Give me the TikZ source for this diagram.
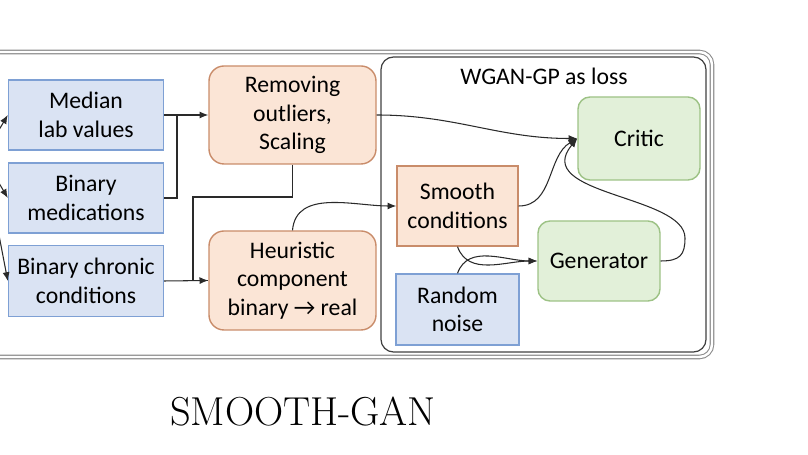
\documentclass[tikz,border=0pt]{standalone}
\usepackage{fontspec}
\newfontfamily\calfont{Carlito}
\usetikzlibrary{arrows.meta}
\definecolor{bluefill}{HTML}{DAE3F3}
\definecolor{blueline}{HTML}{7EA0D4}
\definecolor{orangefill}{HTML}{FBE5D6}
\definecolor{orangeline}{HTML}{C98C6A}
\definecolor{greenfill}{HTML}{E2F0D9}
\definecolor{greenline}{HTML}{9DC285}
\definecolor{arrowgray}{HTML}{2A2A2A}
\begin{document}
\begin{tikzpicture}[scale=1,
	box/.style={line width=0.8pt, align=center, inner sep=0pt, font=\calfont\fontsize{13.5}{16.2}\selectfont},
	bluebox/.style={box, draw=blueline, fill=bluefill},
	orangebox/.style={box, draw=orangeline, fill=orangefill},
	greenbox/.style={box, draw=greenline, fill=greenfill, rounded corners=0.24cm},
	flow/.style={draw=arrowgray, line width=0.6pt},
	tip/.style={-{Latex[length=5pt,width=4pt]}},
	]
	\useasboundingbox (0,0) rectangle (16.16,9.1);

	% frames
	\draw[draw=black!45, double=white, double distance=1.4pt, line width=0.6pt, rounded corners=0.25cm] (-0.3,1.96) rectangle (14.24,8.06);
	\draw[draw=black!75, line width=0.7pt, rounded corners=0.25cm] (7.62,2.06) rectangle (14.12,7.96);
	\node (wgan) at (10.88,7.58) [font=\calfont\fontsize{13.5}{16.2}\selectfont] {WGAN-GP as loss};

	% inputs
	\node (med) at (1.72,6.80) [bluebox, minimum width=3.1cm, minimum height=1.4cm] {Median\\lab values};
	\node (bmed) at (1.72,5.14) [bluebox, minimum width=3.1cm, minimum height=1.4cm] {Binary\\medications};
	\node (chron) at (1.72,3.48) [bluebox, minimum width=3.1cm, minimum height=1.42cm] {Binary chronic\\conditions};

	% preprocessing
	\node (remove) at (5.85,6.80) [orangebox, rounded corners=0.3cm, minimum width=3.34cm, minimum height=1.96cm] {Removing\\outliers,\\Scaling};
	\node (heur) at (5.85,3.49) [orangebox, rounded corners=0.3cm, minimum width=3.34cm, minimum height=1.98cm] {Heuristic\\component\\binary → real};

	% gan
	\node (smooth) at (9.15,4.98) [orangebox, minimum width=2.42cm, minimum height=1.6cm] {Smooth\\conditions};
	\node (noise) at (9.15,2.91) [bluebox, minimum width=2.46cm, minimum height=1.42cm] {Random\\noise};
	\node (critic) at (12.78,6.33) [greenbox, minimum width=2.44cm, minimum height=1.66cm] {Critic};
	\node (gen) at (11.98,3.88) [greenbox, minimum width=2.44cm, minimum height=1.6cm] {Generator};

	\node (title) at (6.06,0.86) [font=\fontsize{23}{27}\selectfont] {SMOOTH-GAN};

	% free ends and bends
	\coordinate (inmed) at (-0.08,6.40);
	\coordinate (inbmed) at (-0.08,5.54);
	\coordinate (inchron) at (-0.04,4.50);
	\coordinate (j1) at (3.54,6.80);
	\coordinate (j2) at (3.86,5.16);
	\coordinate (loop) at (13.70,4.34);

	\draw[flow,tip] (inmed) -- (med.west);
	\draw[flow,tip] (inbmed) -- (bmed.west);
	\draw[flow,tip] (inchron) -- (chron.west);

	\draw[flow,tip] (med.east) -- (remove.west);
	\draw[flow] (bmed.east) -| (j1);
	\draw[flow,tip] (chron.east) -- (heur.west);
	\draw[flow] (remove.south) |- (j2) |- (heur.west);

	\draw[flow,tip] (heur.north) to[out=85,in=180] (smooth.west);
	\draw[flow,tip] (remove.east) to[out=0,in=180] (critic.west);
	\draw[flow,tip] (smooth.east) to[out=0,in=-150] (critic.west);
	\draw[flow,tip] (smooth.south) to[out=-70,in=180] (gen.west);
	\draw[flow,tip] (noise.north) to[out=70,in=180] (gen.west);
	\draw[flow,tip] (gen.east) .. controls (13.60,3.88) and (13.70,4.00) .. (loop)
		.. controls (13.70,5.20) and (10.60,5.20) .. (critic.west);

\end{tikzpicture}
\end{document}
